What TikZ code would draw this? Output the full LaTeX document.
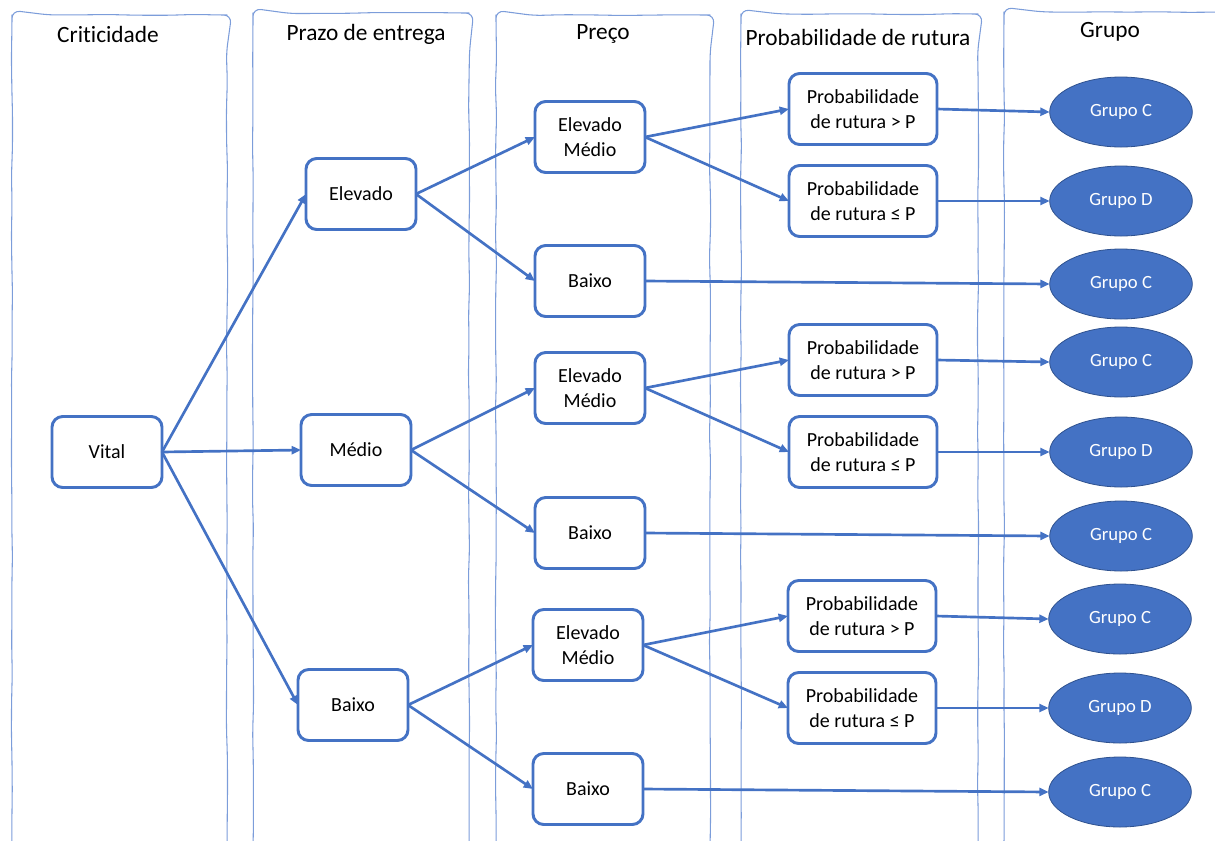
\documentclass[tikz,border=0pt]{standalone}
\usepackage{fontspec}
\setmainfont{Carlito}[Ligatures=NoCommon]
\usetikzlibrary{arrows.meta,decorations.pathmorphing,shapes.geometric}
\definecolor{acc}{HTML}{4472C4}
\definecolor{accdark}{HTML}{2F528F}
\definecolor{colline}{HTML}{7C9DDA}
\begin{document}
\begin{tikzpicture}[x=0.75pt,y=-0.75pt,
  box/.style={draw=acc, line width=2.2pt, rounded corners=8pt, fill=white,
    minimum width=82.5pt, minimum height=53.25pt, align=center,
    font=\fontsize{15}{18.5}\selectfont, inner sep=2pt, outer sep=0pt},
  pbox/.style={box, minimum width=111pt},
  ell/.style={ellipse, draw=accdark, line width=0.6pt, fill=acc, text=white,
    minimum width=107pt, minimum height=52.5pt, inner sep=0pt, outer sep=0pt,
    font=\fontsize{14}{16}\selectfont},
  hdr/.style={font=\fontsize{17.5}{20}\selectfont, inner sep=0pt},
  conn/.style={draw=acc, line width=2pt, -{Triangle[length=7pt,width=6pt]}},
  col/.style={draw=colline, line width=0.8pt, line join=round,
    decorate, decoration={random steps, segment length=22pt, amplitude=0.45pt}, rounded corners=6pt}
]
\pgfmathsetseed{7}
\useasboundingbox (0,0) rectangle (1215,840);
% columns
\draw[col] (12,850) -- (12,15) -- (227,15) -- (227,850);
\draw[col] (253,850) -- (253,13) -- (469,13) -- (469,850);
\draw[col] (496,850) -- (496,15) -- (710,15) -- (710,850);
\draw[col] (741,850) -- (741,14) -- (978,14) -- (978,850);
\draw[col] (1004,850) -- (1004,12) -- (1230,12);
% headers
\node[hdr] (hd1) at (108,34) {Criticidade};
\node[hdr] (hd2) at (366,34) {Prazo de entrega};
\node[hdr] (hd3) at (603,34) {Preço};
\node[hdr] (hd4) at (858,37) {Probabilidade de rutura};
\node[hdr] (hd5) at (1110,32) {Grupo};
% level 1
\node[box] (vital) at (107,452) {Vital};
% level 2
\node[box] (pe) at (361,194) {Elevado};
\node[box] (pm) at (356,450) {Médio};
\node[box] (pb) at (353,705) {Baixo};
% level 3
\node[box] (em1) at (590,137) {Elevado\\Médio};
\node[box] (b1) at (590,281) {Baixo};
\node[box] (em2) at (590,388) {Elevado\\Médio};
\node[box] (b2) at (590,533) {Baixo};
\node[box] (em3) at (588,645) {Elevado\\Médio};
\node[box] (b3) at (588,789) {Baixo};
% level 4
\node[pbox] (pg1) at (863,109) {Probabilidade\\de rutura > P};
\node[pbox] (pl1) at (863,201) {Probabilidade\\de rutura ≤ P};
\node[pbox] (pg2) at (863,360) {Probabilidade\\de rutura > P};
\node[pbox] (pl2) at (863,452) {Probabilidade\\de rutura ≤ P};
\node[pbox] (pg3) at (862,616) {Probabilidade\\de rutura > P};
\node[pbox] (pl3) at (862,708) {Probabilidade\\de rutura ≤ P};
% groups
\node[ell] (g1) at (1121,112) {Grupo C};
\node[ell] (g2) at (1121,201) {Grupo D};
\node[ell] (g3) at (1121,284) {Grupo C};
\node[ell] (g4) at (1121,362) {Grupo C};
\node[ell] (g5) at (1121,452) {Grupo D};
\node[ell] (g6) at (1121,536) {Grupo C};
\node[ell] (g7) at (1120,619) {Grupo C};
\node[ell] (g8) at (1120,708) {Grupo D};
\node[ell] (g9) at (1120,792) {Grupo C};
% connectors
\draw[conn] (vital.east) -- (pe.west);
\draw[conn] (vital.east) -- (pm.west);
\draw[conn] (vital.east) -- (pb.west);
\draw[conn] (pe.east) -- (em1.west);
\draw[conn] (pe.east) -- (b1.west);
\draw[conn] (pm.east) -- (em2.west);
\draw[conn] (pm.east) -- (b2.west);
\draw[conn] (pb.east) -- (em3.west);
\draw[conn] (pb.east) -- (b3.west);
\draw[conn] (em1.east) -- (pg1.west);
\draw[conn] (em1.east) -- (pl1.west);
\draw[conn] (em2.east) -- (pg2.west);
\draw[conn] (em2.east) -- (pl2.west);
\draw[conn] (em3.east) -- (pg3.west);
\draw[conn] (em3.east) -- (pl3.west);
\draw[conn] (pg1.east) -- (g1.west);
\draw[conn] (pl1.east) -- (g2.west);
\draw[conn] (b1.east) -- (g3.west);
\draw[conn] (pg2.east) -- (g4.west);
\draw[conn] (pl2.east) -- (g5.west);
\draw[conn] (b2.east) -- (g6.west);
\draw[conn] (pg3.east) -- (g7.west);
\draw[conn] (pl3.east) -- (g8.west);
\draw[conn] (b3.east) -- (g9.west);
\end{tikzpicture}
\end{document}
